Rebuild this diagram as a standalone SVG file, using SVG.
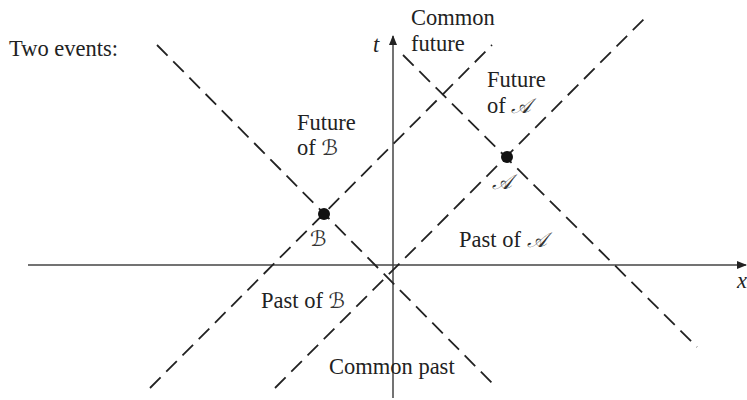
<svg xmlns="http://www.w3.org/2000/svg" width="747" height="400" viewBox="0 0 747 400">
<style>
.t{font-family:"Liberation Serif","Times New Roman",serif;font-size:22.5px;fill:#222}
.i{font-style:italic}
.s{font-family:"DejaVu Serif","DejaVu Sans",serif;font-style:italic;font-size:21px;fill:#333}
.d{stroke:#222;stroke-width:1.8;stroke-dasharray:15 8;fill:none}
.ax{stroke:#444;stroke-width:1.5;fill:none}
</style>
<defs>
<marker id="ah" viewBox="0 0 10 10" refX="9" refY="5" markerWidth="10" markerHeight="10" markerUnits="userSpaceOnUse" orient="auto">
<path d="M0,1 L10,5 L0,9 Z" fill="#222"/>
</marker>
</defs>
<g id="connectors">
<line class="ax" x1="28" y1="265" x2="746" y2="265" marker-end="url(#ah)"/>
<line class="ax" x1="393" y1="398" x2="393" y2="36" marker-end="url(#ah)"/>
<line class="d" x1="157" y1="45" x2="497" y2="388"/>
<line class="d" x1="150" y1="388" x2="492" y2="45"/>
<line class="d" x1="403" y1="55" x2="697" y2="347"/>
<line class="d" x1="275" y1="388" x2="648" y2="15"/>
</g>
<g id="eventB"><circle cx="324" cy="214" r="6" fill="#111"/><text class="s" x="310" y="246">ℬ</text></g>
<g id="eventA"><circle cx="507" cy="157" r="6" fill="#111"/><text class="s" x="492" y="189">𝒜</text></g>
<g id="labels">
<text class="t" x="9" y="56">Two events:</text>
<text class="t" x="411" y="25">Common</text>
<text class="t" x="411" y="51">future</text>
<text class="t i" x="373" y="52">t</text>
<text class="t" x="487" y="87">Future</text>
<text class="t" x="487" y="113">of <tspan class="s">𝒜</tspan></text>
<text class="t" x="297" y="130">Future</text>
<text class="t" x="297" y="155">of <tspan class="s">ℬ</tspan></text>
<text class="t" x="459" y="247">Past of <tspan class="s">𝒜</tspan></text>
<text class="t" x="261" y="308">Past of <tspan class="s">ℬ</tspan></text>
<text class="t" x="329" y="374">Common past</text>
<text class="t i" x="737" y="288">x</text>
</g>
</svg>
